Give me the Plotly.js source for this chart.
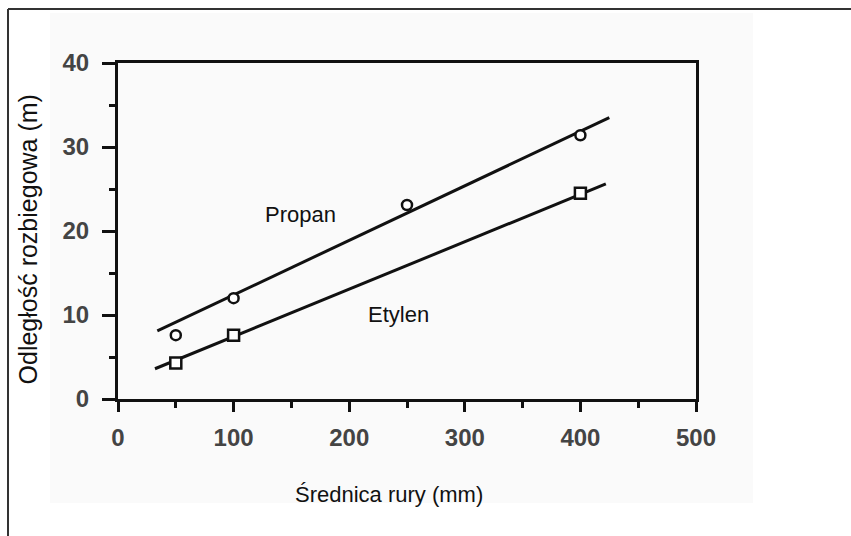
<!DOCTYPE html>
<html>
<head>
<meta charset="utf-8">
<script src="https://cdn.plot.ly/plotly-3.0.1.min.js"></script>
<style>html,body{margin:0;padding:0;background:#fff;}#chart{width:851px;height:536px;}</style>
</head>
<body>
<div id="chart"></div>
<script>
// Measured points
const propanX = [50, 100, 250, 400];
const propanY = [7.6, 12.0, 23.1, 31.4];
const etylenX = [50, 100, 400];
const etylenY = [4.3, 7.6, 24.5];
// Fitted lines (end points)
const propanFitX = [34, 425];
const propanFitY = [8.1, 33.5];
const etylenFitX = [32, 422];
const etylenFitY = [3.6, 25.6];
// Labels
const seriesNames = ["Propan", "Etylen"];
const labelX = [158, 243];
const labelY = [22.0, 10.1];
const xTickVals = [0, 100, 200, 300, 400, 500];
const yTickVals = [0, 10, 20, 30, 40];
const xTitle = 'Średnica rury (mm)';
const yTitle = 'Odległość rozbiegowa (m)';

const lineStyle = {color: '#111', width: 3};
const traces = [
  {x: propanFitX, y: propanFitY, mode: 'lines', line: lineStyle, hoverinfo: 'skip'},
  {x: etylenFitX, y: etylenFitY, mode: 'lines', line: lineStyle, hoverinfo: 'skip'},
  {x: propanX, y: propanY, mode: 'markers', name: seriesNames[0],
   marker: {symbol: 'circle', size: 10, color: '#fff', line: {color: '#111', width: 2.5}}},
  {x: etylenX, y: etylenY, mode: 'markers', name: seriesNames[1],
   marker: {symbol: 'square', size: 11, color: '#fff', line: {color: '#111', width: 2.5}}}
];

const fam = 'Liberation Sans, Arial, sans-serif';
const tickFont = {family: fam, size: 24, color: '#444444', weight: 'bold'};
const layout = {
  width: 851, height: 536,
  margin: {l: 118, r: 155, t: 63, b: 137},
  paper_bgcolor: '#ffffff', plot_bgcolor: 'rgba(0,0,0,0)',
  showlegend: false,
  xaxis: {
    range: [0, 500], tickvals: xTickVals, ticks: 'outside', ticklen: 10, tickwidth: 3, tickcolor: '#111',
    showline: true, linewidth: 3, linecolor: '#111', mirror: true, showgrid: false, zeroline: false,
    minor: {dtick: 50, ticks: 'outside', ticklen: 6, tickwidth: 3, tickcolor: '#111', showgrid: false},
    tickfont: tickFont, ticklabelstandoff: 5
  },
  yaxis: {
    range: [0, 40], tickvals: yTickVals, ticks: 'outside', ticklen: 13, tickwidth: 3, tickcolor: '#111',
    showline: true, linewidth: 3, linecolor: '#111', mirror: true, showgrid: false, zeroline: false,
    minor: {dtick: 5, ticks: 'outside', ticklen: 6, tickwidth: 3, tickcolor: '#111', showgrid: false},
    tickfont: tickFont, ticklabelstandoff: 8
  },
  annotations: seriesNames.map((n, i) => ({
    x: labelX[i], y: labelY[i], xref: 'x', yref: 'y', text: n, showarrow: false,
    font: {family: fam, size: 22, color: '#111'}
  })).concat([
    {x: 0.468, y: -0.284, xref: 'paper', yref: 'paper', text: xTitle, showarrow: false,
     xanchor: 'center', yanchor: 'middle', font: {family: fam, size: 22, color: '#111'}},
    {x: -0.155, y: 0.476, xref: 'paper', yref: 'paper', text: yTitle, showarrow: false, textangle: -90,
     xanchor: 'center', yanchor: 'middle', font: {family: fam, size: 25, color: '#111'}}
  ]),
  shapes: [
    {type: 'rect', xref: 'paper', yref: 'paper', x0: -0.1176, x1: 1.0986, y0: -0.3095, y1: 1.1488,
     fillcolor: '#fafafa', line: {width: 0}, layer: 'below'},
    {type: 'line', xref: 'paper', yref: 'paper', x0: -0.1903, x1: -0.1903, y0: -0.42, y1: 1.1607,
     line: {color: '#333', width: 2}},
    {type: 'line', xref: 'paper', yref: 'paper', x0: -0.1903, x1: 1.3, y0: 1.1607, y1: 1.1607,
     line: {color: '#333', width: 2}}
  ]
};
Plotly.newPlot('chart', traces, layout, {displayModeBar: false, staticPlot: true});
</script>
</body>
</html>
